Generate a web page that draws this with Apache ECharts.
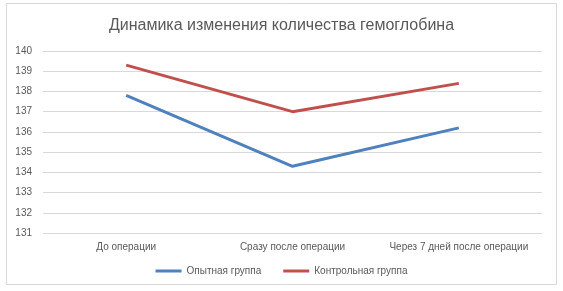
<!DOCTYPE html>
<html>
<head>
<meta charset="utf-8">
<script src="https://cdn.jsdelivr.net/npm/echarts@6/dist/echarts.min.js"></script>
<style>
	html, body { margin: 0; padding: 0; background: #fff; }
	#chart { width: 563px; height: 291px; }
</style>
</head>
<body>
<div id="chart"></div>
<script>
var categories = ['До операции', 'Сразу после операции', 'Через 7 дней после операции'];
var seriesNames = ['Опытная группа', 'Контрольная группа'];
var experimental = [137.8, 134.3, 136.2];
var control = [139.3, 137.0, 138.4];

var textColor = '#595959';
var fontName = 'Liberation Sans';

var chart = echarts.init(document.getElementById('chart'));

chart.setOption({
	animation: false,
	backgroundColor: '#fff',
	title: {
		text: 'Динамика изменения количества гемоглобина',
		left: 'center',
		top: 13,
		textStyle: {
			color: textColor,
			fontSize: 16,
			fontWeight: 'normal',
			fontFamily: fontName
		}
	},
	graphic: [{
		type: 'rect',
		shape: { x: 6.5, y: 3.5, width: 550, height: 281 },
		style: { fill: 'none', stroke: '#d9d9d9', lineWidth: 1 },
		silent: true
	}],
	legend: {
		bottom: 10,
		left: 'center',
		itemWidth: 26,
		itemHeight: 3,
		itemGap: 22,
		icon: 'rect',
		textStyle: { color: textColor, fontSize: 10, fontFamily: fontName },
		data: seriesNames
	},
	grid: {
		left: 43,
		right: 21,
		top: 51,
		bottom: 58
	},
	xAxis: {
		type: 'category',
		data: categories,
		boundaryGap: true,
		axisLine: { show: false },
		axisTick: { show: false },
		axisLabel: {
			color: textColor,
			fontSize: 10,
			fontFamily: fontName,
			margin: 9,
			interval: 0
		}
	},
	yAxis: {
		type: 'value',
		min: 131,
		max: 140,
		interval: 1,
		axisLine: { show: false },
		axisTick: { show: false },
		axisLabel: {
			color: textColor,
			fontSize: 10,
			fontFamily: fontName,
			margin: 11
		},
		splitLine: { lineStyle: { color: '#d9d9d9', width: 1 } }
	},
	series: [{
		name: seriesNames[0],
		type: 'line',
		data: experimental,
		symbol: 'none',
		color: '#4f81bd',
		lineStyle: { width: 3, color: '#4f81bd' }
	}, {
		name: seriesNames[1],
		type: 'line',
		data: control,
		symbol: 'none',
		color: '#c0504d',
		lineStyle: { width: 3, color: '#c0504d' }
	}]
});
</script>
</body>
</html>
